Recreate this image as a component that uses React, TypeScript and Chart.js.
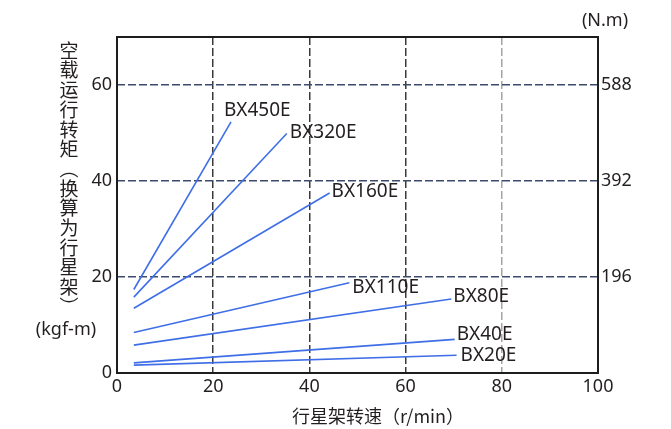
import React, { useEffect, useRef } from "react";
import { Chart, registerables } from "chart.js";
Chart.register(...registerables);

const models = ["BX450E", "BX320E", "BX160E", "BX110E", "BX80E", "BX40E", "BX20E"];
const startSpeed = [3.5, 3.5, 3.5, 3.5, 3.5, 3.5, 3.5];
const endSpeed = [23.7, 35.3, 44.2, 48.3, 69.5, 70.2, 70.6];
const startTorque = [17.4, 15.8, 13.5, 8.45, 5.8, 2.1, 1.65];
const endTorque = [52.3, 49.9, 37.5, 18.8, 15.4, 7.0, 3.7];
const xTicks = [0, 20, 40, 60, 80, 100];
const yTicks = [0, 20, 40, 60];
const nmTicks = [196, 392, 588];
const yTitle = "空载运行转矩︵换算为行星架︶";
const yUnit = "(kgf-m)";
const rightUnit = "(N.m)";
const xTitle = "行星架转速（r/min）";

// label offsets (styling only)
const labelDx = [-7, 3, 2, 3, 2, 2, 4];
const labelDy = [-11, -1, -1, 5, -2, -5, 0];

const FONT = "'Noto Sans', 'Noto Sans CJK SC', sans-serif";
const TEXT = "#231f20";
const LINE = "#3f6ee6";

export default function App() {
  const ref = useRef<HTMLCanvasElement | null>(null);
  useEffect(() => {
    const canvas = ref.current!;
    const framePlugin = {
      id: "frame",
      beforeDatasetsDraw(chart: any) {
        const { ctx, chartArea: a } = chart;
        ctx.save();
        ctx.strokeStyle = "#1e1c1c";
        ctx.lineWidth = 2;
        ctx.strokeRect(a.left, a.top, a.right - a.left, a.bottom - a.top);
        ctx.restore();
      },
    };
    const labelPlugin = {
      id: "labels",
      afterDatasetsDraw(chart: any) {
        const ctx = chart.ctx;
        ctx.save();
        ctx.font = `19px ${FONT}`;
        ctx.fillStyle = TEXT;
        ctx.textAlign = "left";
        ctx.textBaseline = "middle";
        chart.data.datasets.forEach((ds: any, i: number) => {
          const meta = chart.getDatasetMeta(i);
          const p = meta.data[meta.data.length - 1];
          ctx.fillText(models[i], p.x + labelDx[i], p.y + labelDy[i]);
        });
        ctx.restore();
      },
    };
    const titlePlugin = {
      id: "titles",
      afterDraw(chart: any) {
        const ctx = chart.ctx;
        const a = chart.chartArea;
        ctx.save();
        ctx.fillStyle = TEXT;
        ctx.font = `19px 'Noto Sans CJK SC', sans-serif`;
        ctx.textAlign = "center";
        ctx.textBaseline = "middle";
        const chars = Array.from(yTitle);
        chars.forEach((c, i) => {
          ctx.fillText(c, 69, a.top + 13.5 + i * 19.7);
        });
        ctx.font = `18px ${FONT}`;
        ctx.fillText(yUnit, 66, 330);
        ctx.fillText(rightUnit, 605, 21);
        ctx.font = `18px 'Noto Sans CJK SC', sans-serif`;
        ctx.fillText(xTitle, 378, 416);
        ctx.restore();
      },
    };
    const chart = new Chart(canvas, {
      type: "line",
      data: {
        datasets: models.map((m, i) => ({
          label: m,
          data: [
            { x: startSpeed[i], y: startTorque[i] },
            { x: endSpeed[i], y: endTorque[i] },
          ],
          borderColor: LINE,
          borderWidth: 1.6,
          pointRadius: 0,
          fill: false,
          yAxisID: "y",
        })),
      },
      options: {
        animation: false,
        responsive: false,
        maintainAspectRatio: false,
        layout: { padding: { top: 37, left: 0, right: 0, bottom: 0 } },
        plugins: { legend: { display: false }, tooltip: { enabled: false } },
        scales: {
          x: {
            type: "linear",
            min: 0,
            max: 100,
            afterBuildTicks: (s: any) => {
              s.ticks = xTicks.map((v) => ({ value: v }));
            },
            afterFit: (s: any) => {
              s.height = 56;
            },
            ticks: { font: { size: 18, family: FONT }, color: TEXT, padding: 3, maxRotation: 0 },
            grid: {
              drawTicks: false,
              lineWidth: 1.5,
              color: (c: any) =>
                c.tick && (c.tick.value === 0 || c.tick.value === 100)
                  ? "rgba(0,0,0,0)"
                  : c.tick && c.tick.value === 80
                  ? "#a3a3a8"
                  : "#3a3a3c",
            },
            border: { display: false, dash: [8, 3] },
          },
          y: {
            type: "linear",
            position: "left",
            min: 0,
            max: 70,
            afterBuildTicks: (s: any) => {
              s.ticks = yTicks.map((v) => ({ value: v }));
            },
            afterFit: (s: any) => {
              s.width = 117;
            },
            ticks: { font: { size: 18, family: FONT }, color: TEXT, padding: 5 },
            grid: {
              drawTicks: false,
              lineWidth: 1.5,
              color: (c: any) => (c.tick && c.tick.value === 0 ? "rgba(0,0,0,0)" : "#3d4a6c"),
            },
            border: { display: false, dash: [8, 3] },
          },
          y2: {
            type: "linear",
            position: "right",
            min: 0,
            max: 70,
            afterBuildTicks: (s: any) => {
              s.ticks = yTicks.slice(1).map((v) => ({ value: v }));
            },
            afterFit: (s: any) => {
              s.width = 73;
            },
            ticks: {
              font: { size: 18, family: FONT },
              color: TEXT,
              padding: 3,
              callback: (_v: any, i: number) => String(nmTicks[i]),
            },
            grid: { display: false, drawTicks: false },
            border: { display: false },
          },
        },
      },
      plugins: [framePlugin, labelPlugin, titlePlugin],
    });
    return () => chart.destroy();
  }, []);
  return (
    <div style={{ position: "fixed", left: 0, top: 0, width: 671, height: 429, background: "#fff" }}>
      <canvas ref={ref} width={671} height={429} style={{ width: 671, height: 429 }} />
    </div>
  );
}
